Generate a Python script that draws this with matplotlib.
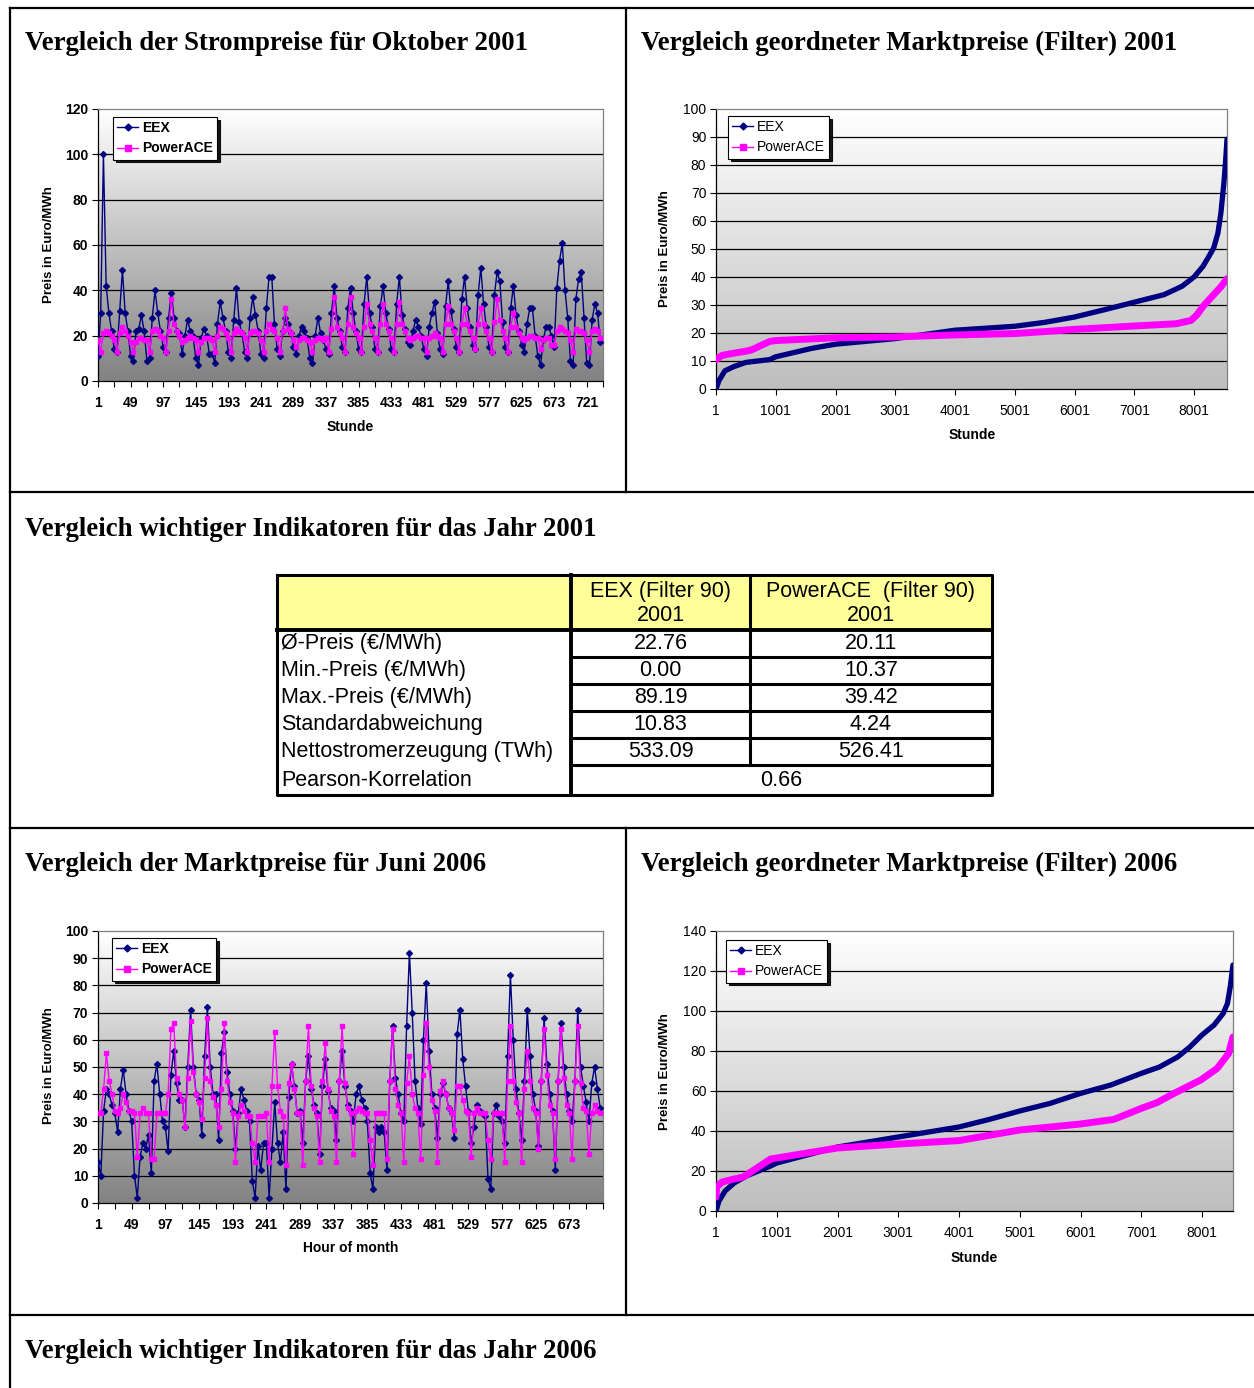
import matplotlib
matplotlib.use("Agg")
import matplotlib.pyplot as plt
import numpy as np
from matplotlib.colors import LinearSegmentedColormap
from matplotlib.lines import Line2D

W, H = 1254, 1388

# Oktober 2001, read every 4 hours (6 values per day)
okt_eex = [
    11, 30, 100, 42, 30, 22,   14, 13, 31, 49, 30, 22,   11, 9, 22, 23, 29, 22,
    9, 10, 28, 40, 30, 22,     15, 13, 28, 39, 28, 22,   21, 12, 20, 27, 22, 20,
    10, 7, 19, 23, 20, 12,     12, 8, 25, 35, 28, 22,    13, 10, 27, 41, 26, 21,
    13, 10, 28, 37, 29, 22,    12, 10, 32, 46, 46, 25,   14, 11, 22, 28, 25, 21,
    15, 12, 20, 24, 22, 19,    10, 8, 20, 28, 21, 18,    14, 12, 30, 42, 28, 22,
    15, 13, 32, 41, 30, 22,    14, 13, 34, 46, 30, 24,   14, 13, 33, 42, 30, 23,
    14, 13, 34, 46, 29, 23,    17, 16, 22, 27, 24, 20,   14, 11, 24, 30, 35, 21,
    14, 12, 33, 44, 31, 23,    15, 13, 36, 46, 32, 24,   16, 14, 38, 50, 34, 24,
    15, 13, 38, 48, 44, 26,    15, 13, 32, 42, 29, 22,   16, 13, 25, 32, 32, 20,
    11, 7, 18, 24, 24, 20,     15, 41, 53, 61, 40, 28,   9, 7, 36, 45, 48, 28,
    8, 7, 27, 34, 30, 17,
]
okt_pace = [
    18, 13, 21, 22, 21, 20,   18, 13, 21, 24, 22, 20,   17, 13, 17, 19, 19, 18,
    18, 13, 22, 23, 22, 20,   19, 13, 22, 36, 25, 22,   20, 17, 18, 19, 20, 19,
    18, 13, 17, 19, 19, 19,   18, 13, 20, 24, 23, 21,   19, 13, 21, 23, 22, 21,
    19, 13, 21, 22, 22, 21,   18, 13, 22, 25, 23, 22,   19, 13, 22, 32, 23, 21,
    18, 15, 18, 19, 19, 18,   17, 13, 18, 19, 19, 18,   19, 13, 23, 37, 24, 21,
    19, 13, 25, 37, 24, 21,   19, 13, 24, 34, 25, 22,   19, 13, 25, 34, 25, 22,
    19, 13, 25, 35, 25, 22,   19, 18, 19, 20, 20, 19,   19, 13, 19, 20, 21, 20,
    19, 13, 25, 33, 25, 22,   19, 13, 25, 32, 25, 22,   19, 14, 25, 32, 25, 22,
    19, 13, 26, 36, 27, 22,   19, 13, 24, 30, 24, 21,   19, 18, 19, 20, 20, 19,
    19, 14, 18, 19, 19, 16,   16, 22, 24, 23, 22, 21,   18, 13, 23, 22, 22, 21,
    18, 13, 22, 23, 22, 19,
]

# Juni 2006, read every 4 hours
juni_eex = [
    15, 10, 34, 42, 40, 36,   33, 26, 42, 49, 40, 34,   30, 10, 2, 17, 22, 20,
    25, 11, 45, 51, 40, 30,   28, 19, 47, 56, 44, 38,   38, 28, 50, 71, 50, 40,
    38, 25, 54, 72, 50, 40,   40, 23, 55, 63, 48, 40,   34, 20, 33, 42, 38, 34,
    30, 8, 2, 21, 12, 22,     22, 2, 20, 37, 22, 15,    26, 5, 39, 51, 43, 33,
    34, 22, 45, 54, 42, 36,   33, 18, 43, 53, 41, 35,   34, 23, 45, 56, 43, 36,
    34, 30, 40, 43, 38, 35,   30, 11, 5, 28, 26, 28,    26, 12, 45, 65, 46, 40,
    33, 30, 65, 92, 70, 45,   35, 29, 60, 81, 56, 40,   35, 24, 40, 44, 40, 35,
    33, 24, 62, 71, 53, 43,   34, 22, 28, 36, 34, 33,   32, 9, 5, 33, 36, 32,
    30, 22, 54, 84, 60, 42,   33, 23, 45, 71, 54, 40,   34, 21, 45, 68, 51, 40,
    34, 12, 45, 66, 50, 40,   34, 30, 45, 71, 50, 43,   37, 30, 44, 50, 42, 35,
]
juni_pace = [
    33, 33, 42, 55, 45, 40,   34, 33, 35, 40, 37, 34,   34, 33, 17, 33, 35, 33,
    33, 16, 16, 33, 33, 33,   33, 40, 64, 66, 46, 40,   38, 28, 46, 67, 48, 40,
    37, 31, 46, 68, 45, 39,   36, 28, 42, 66, 45, 37,   33, 15, 32, 36, 34, 32,
    32, 22, 15, 32, 32, 32,   33, 15, 43, 63, 43, 34,   32, 14, 44, 51, 42, 33,
    33, 14, 45, 65, 43, 35,   32, 15, 45, 59, 42, 34,   32, 15, 45, 65, 44, 35,
    33, 18, 34, 35, 34, 33,   33, 23, 14, 33, 33, 33,   33, 16, 45, 64, 42, 36,
    33, 15, 44, 54, 40, 35,   33, 16, 47, 66, 50, 38,   34, 15, 41, 45, 40, 35,
    33, 27, 43, 43, 38, 34,   33, 17, 33, 35, 33, 33,   33, 23, 16, 33, 33, 33,
    33, 15, 45, 65, 45, 37,   33, 15, 42, 56, 45, 35,   33, 20, 45, 64, 47, 36,
    33, 16, 45, 64, 46, 36,   33, 16, 45, 65, 44, 35,   34, 18, 33, 36, 34, 33,
]

# geordnete Preise 2001
s01_eex_h = [1, 50, 150, 300, 500, 700, 900, 1000, 1300, 1600, 2000, 2500, 3000, 3500,
             4000, 4500, 5000, 5500, 6000, 6500, 7000, 7500, 7800, 8000, 8150, 8250,
             8330, 8400, 8450, 8500, 8530, 8552]
s01_eex = [0, 3, 6.5, 8, 9.5, 10, 10.5, 11.5, 13, 14.5, 16, 17, 18, 19.5,
           21, 21.7, 22.4, 23.8, 25.7, 28.3, 31, 33.7, 36.7, 40, 43.8, 47.4,
           50.4, 55.7, 62.9, 73.6, 81.9, 89.2]
s01_pace_h = [1, 100, 300, 500, 600, 700, 800, 900, 1000, 1500, 2000, 3000, 4000, 5000,
              5500, 6000, 7000, 7700, 7950, 8050, 8150, 8300, 8450, 8552]
s01_pace = [10.4, 12, 12.8, 13.5, 14, 15, 16, 17, 17.3, 17.8, 18.3, 18.6, 19.3, 19.8,
            20.5, 21.3, 22.5, 23.3, 24.5, 26.5, 29.5, 33, 36.5, 39.4]

# geordnete Preise 2006
s06_eex_h = [1, 50, 150, 300, 500, 700, 900, 1000, 1500, 2000, 2500, 3000, 3500, 4000,
             4500, 5000, 5500, 6000, 6500, 7000, 7300, 7600, 7800, 8000, 8200, 8350,
             8420, 8470, 8510]
s06_eex = [0, 5, 10, 14, 17.5, 20, 22.5, 24, 28, 32, 34.5, 37, 39.5, 42,
           45.8, 50, 53.8, 58.8, 63, 68.8, 72, 77, 82, 88, 93, 98.8,
           103.8, 113, 123]
s06_pace_h = [1, 10, 100, 300, 450, 600, 800, 900, 1000, 1500, 2000, 3000, 3700, 4000,
              5000, 6000, 6550, 7000, 7260, 7540, 7980, 8250, 8440, 8510]
s06_pace = [7, 12, 14.5, 16, 17, 20, 24, 26, 26.5, 29, 31.5, 33.5, 34.7, 35.2,
            40.5, 43.5, 45.8, 51.3, 54.2, 58.8, 65.5, 71.3, 78.8, 87]

# Indikatoren 2001
ind_labels = ["Ø-Preis (€/MWh)", "Min.-Preis (€/MWh)", "Max.-Preis (€/MWh)",
              "Standardabweichung", "Nettostromerzeugung (TWh)", "Pearson-Korrelation"]
ind_header = ["EEX (Filter 90)\n2001", "PowerACE  (Filter 90)\n2001"]
ind_eex = ["22.76", "0.00", "89.19", "10.83", "533.09"]
ind_pace = ["20.11", "10.37", "39.42", "4.24", "526.41"]
ind_pearson = "0.66"

titles = [
    (25, 50, "Vergleich der Strompreise für Oktober 2001"),
    (641, 50, "Vergleich geordneter Marktpreise (Filter) 2001"),
    (25, 536, "Vergleich wichtiger Indikatoren für das Jahr 2001"),
    (25, 871, "Vergleich der Marktpreise für Juni 2006"),
    (641, 871, "Vergleich geordneter Marktpreise (Filter) 2006"),
    (25, 1358, "Vergleich wichtiger Indikatoren für das Jahr 2006"),
]

NAVY = "#000080"
MAG = "#FF00FF"
SANS = "Liberation Sans"
SERIF = "Liberation Serif"

fig = plt.figure(figsize=(W / 100, H / 100), dpi=100)
fig.patch.set_facecolor("white")


def rect(x0, y0, x1, y1):
    return [x0 / W, 1 - y1 / H, (x1 - x0) / W, (y1 - y0) / H]


# background layer in pixel coordinates
bg = fig.add_axes([0, 0, 1, 1], zorder=0)
bg.set_xlim(0, W)
bg.set_ylim(H, 0)
bg.axis("off")

lw_frame = 1.6
bg.plot([10, 10], [8, H], color="k", lw=lw_frame)
bg.plot([10, W], [8, 8], color="k", lw=lw_frame)
for yy in [492, 828, 1315]:
    bg.plot([10, W], [yy, yy], color="k", lw=lw_frame)
bg.plot([626, 626], [8, 492], color="k", lw=lw_frame)
bg.plot([626, 626], [828, 1315], color="k", lw=lw_frame)

for x, y, t in titles:
    bg.text(x, y, t, fontsize=19.3, fontweight="bold", family=SERIF, va="baseline", ha="left")

# table
tx0, tx1, tx2, tx3 = 277, 571, 750, 992
ty_top, ty_head = 575, 630
row_h = 27
bg.add_patch(plt.Rectangle((tx0, ty_top), tx3 - tx0, ty_head - ty_top, facecolor="#FFFF99",
                           edgecolor="none", zorder=1))
ty_bot = ty_head + 5 * row_h + 30
tlw = 2.2
bg.plot([tx0, tx3, tx3, tx0, tx0], [ty_top, ty_top, ty_bot, ty_bot, ty_top], color="k", lw=tlw, zorder=2)
bg.plot([tx0, tx3], [ty_head, ty_head], color="k", lw=tlw + 0.6, zorder=2)
bg.plot([tx1, tx1], [ty_top, ty_bot], color="k", lw=tlw + 0.6, zorder=2)
bg.plot([tx2, tx2], [ty_top, ty_head + 5 * row_h], color="k", lw=tlw, zorder=2)
for i in range(1, 6):
    yy = ty_head + i * row_h
    bg.plot([tx1, tx3], [yy, yy], color="k", lw=tlw, zorder=2)

tfs = 15.5
for j, h in enumerate(ind_header):
    cx = (tx1 + tx2) / 2 if j == 0 else (tx2 + tx3) / 2
    bg.text(cx, (ty_top + ty_head) / 2 + 1, h, ha="center", va="center", fontsize=tfs,
            family=SANS, linespacing=1.22)
for i, lab in enumerate(ind_labels):
    cy = ty_head + i * row_h + row_h / 2
    if i == 5:
        cy = ty_head + 5 * row_h + 15
    bg.text(tx0 + 4, cy, lab, ha="left", va="center", fontsize=tfs, family=SANS)
for i in range(5):
    cy = ty_head + i * row_h + row_h / 2
    bg.text((tx1 + tx2) / 2, cy, ind_eex[i], ha="center", va="center", fontsize=tfs, family=SANS)
    bg.text((tx2 + tx3) / 2, cy, ind_pace[i], ha="center", va="center", fontsize=tfs, family=SANS)
bg.text((tx1 + tx3) / 2, ty_head + 5 * row_h + 15, ind_pearson, ha="center", va="center",
        fontsize=tfs, family=SANS)


def chart(box, xmax, ymax, ystep, dark, bold, xticks, xlabels):
    ax = fig.add_axes(rect(*box), zorder=2)
    cmap = LinearSegmentedColormap.from_list("grad", ["#ffffff", dark])
    grad = np.linspace(0, 1, 256).reshape(-1, 1)
    ax.imshow(grad, extent=[1, xmax, 0, ymax], aspect="auto", cmap=cmap, origin="upper", zorder=0)
    ax.set_xlim(1, xmax)
    ax.set_ylim(0, ymax)
    yt = np.arange(0, ymax + 0.1, ystep)
    ax.set_yticks(yt)
    for v in yt[1:-1]:
        ax.axhline(v, color="k", lw=0.9, zorder=1)
    ax.set_xticks(xticks)
    ax.set_xticklabels(xlabels)
    fw = "bold" if bold else "normal"
    ax.set_yticklabels([str(int(v)) for v in yt])
    for lab in ax.get_xticklabels() + ax.get_yticklabels():
        lab.set_fontfamily(SANS)
        lab.set_fontweight(fw)
        lab.set_fontsize(10)
    ax.tick_params(axis="y", direction="out", length=4, width=0.8, pad=3)
    ax.tick_params(axis="x", direction="out", length=4, width=0.8, pad=7)
    for s in ["left", "bottom"]:
        ax.spines[s].set_color("k")
        ax.spines[s].set_linewidth(0.9)
    for s in ["top", "right"]:
        ax.spines[s].set_color("#808080")
        ax.spines[s].set_linewidth(0.9)
    return ax


def legend(ax, x, y, bold):
    handles = [
        Line2D([], [], color=NAVY, marker="D", markersize=3.5, lw=1),
        Line2D([], [], color=MAG, marker="s", markersize=4, lw=1),
    ]
    leg = ax.legend(handles, ["EEX", "PowerACE"], loc="upper left",
                    bbox_to_anchor=(x / W, 1 - y / H), bbox_transform=fig.transFigure,
                    borderaxespad=0, fancybox=False, shadow={"color": "k", "alpha": 0.9},
                    handlelength=1.5, handletextpad=0.3, borderpad=0.3, labelspacing=0.45,
                    prop={"family": SANS, "size": 10, "weight": "bold" if bold else "normal"})
    leg.get_frame().set_edgecolor("k")
    leg.get_frame().set_linewidth(0.8)
    leg.set_zorder(10)


# Chart 1: Oktober 2001
okt_x = np.arange(len(okt_eex)) * 4 + 1
t1 = [1 + 24 * k for k in range(32)]
l1 = [str(t) if k % 2 == 0 else "" for k, t in enumerate(t1)]
ax1 = chart((98, 109, 603, 381), 745, 120, 20, "#828282", True, t1, l1)
ax1.plot(okt_x, okt_eex, color=NAVY, lw=1, marker="D", markersize=3, zorder=3)
ax1.plot(okt_x, okt_pace, color=MAG, lw=1, marker="s", markersize=3.5, zorder=4)
legend(ax1, 113, 117, True)

# Chart 2: geordnet 2001
t2 = [1 + 1000 * k for k in range(9)]
ax2 = chart((716, 109, 1227, 389), 8552, 100, 10, "#bebebe", False, t2, [str(t) for t in t2])
ax2.plot(s01_eex_h, s01_eex, color=NAVY, lw=3.8, solid_capstyle="round", zorder=3)
ax2.plot(s01_pace_h, s01_pace, color=MAG, lw=5, solid_capstyle="round", zorder=4)
legend(ax2, 728, 116, False)

# Chart 3: Juni 2006
juni_x = np.arange(len(juni_eex)) * 4 + 1
t3 = [1 + 24 * k for k in range(31)]
l3 = [str(t) if (k % 2 == 0 and t < 721) else "" for k, t in enumerate(t3)]
ax3 = chart((98, 931, 603, 1203), 721, 100, 10, "#828282", True, t3, l3)
ax3.plot(juni_x, juni_eex, color=NAVY, lw=1, marker="D", markersize=3, zorder=3)
ax3.plot(juni_x, juni_pace, color=MAG, lw=1, marker="s", markersize=3.5, zorder=4)
legend(ax3, 112, 938, True)

# Chart 4: geordnet 2006
ax4 = chart((716, 931, 1233, 1211), 8511, 140, 20, "#bebebe", False, t2, [str(t) for t in t2])
ax4.plot(s06_eex_h, s06_eex, color=NAVY, lw=3.8, solid_capstyle="round", zorder=3)
ax4.plot(s06_pace_h, s06_pace, color=MAG, lw=5, solid_capstyle="round", zorder=4)
legend(ax4, 726, 940, False)

# axis labels
ylab = "Preis in Euro/MWh"
for x, y in [(48.5, 245), (664.5, 249), (48.5, 1066), (665, 1072)]:
    fig.text(x / W, 1 - y / H, ylab, rotation=90, ha="center", va="center",
             fontsize=9.5, fontweight="bold", family=SANS)
for x, y, t in [(350, 427, "Stunde"), (972, 435, "Stunde"), (351, 1248, "Hour of month"),
                (974, 1258, "Stunde")]:
    fig.text(x / W, 1 - y / H, t, ha="center", va="center", fontsize=10,
             fontweight="bold", family=SANS)

fig.savefig("out.png", dpi=100)
